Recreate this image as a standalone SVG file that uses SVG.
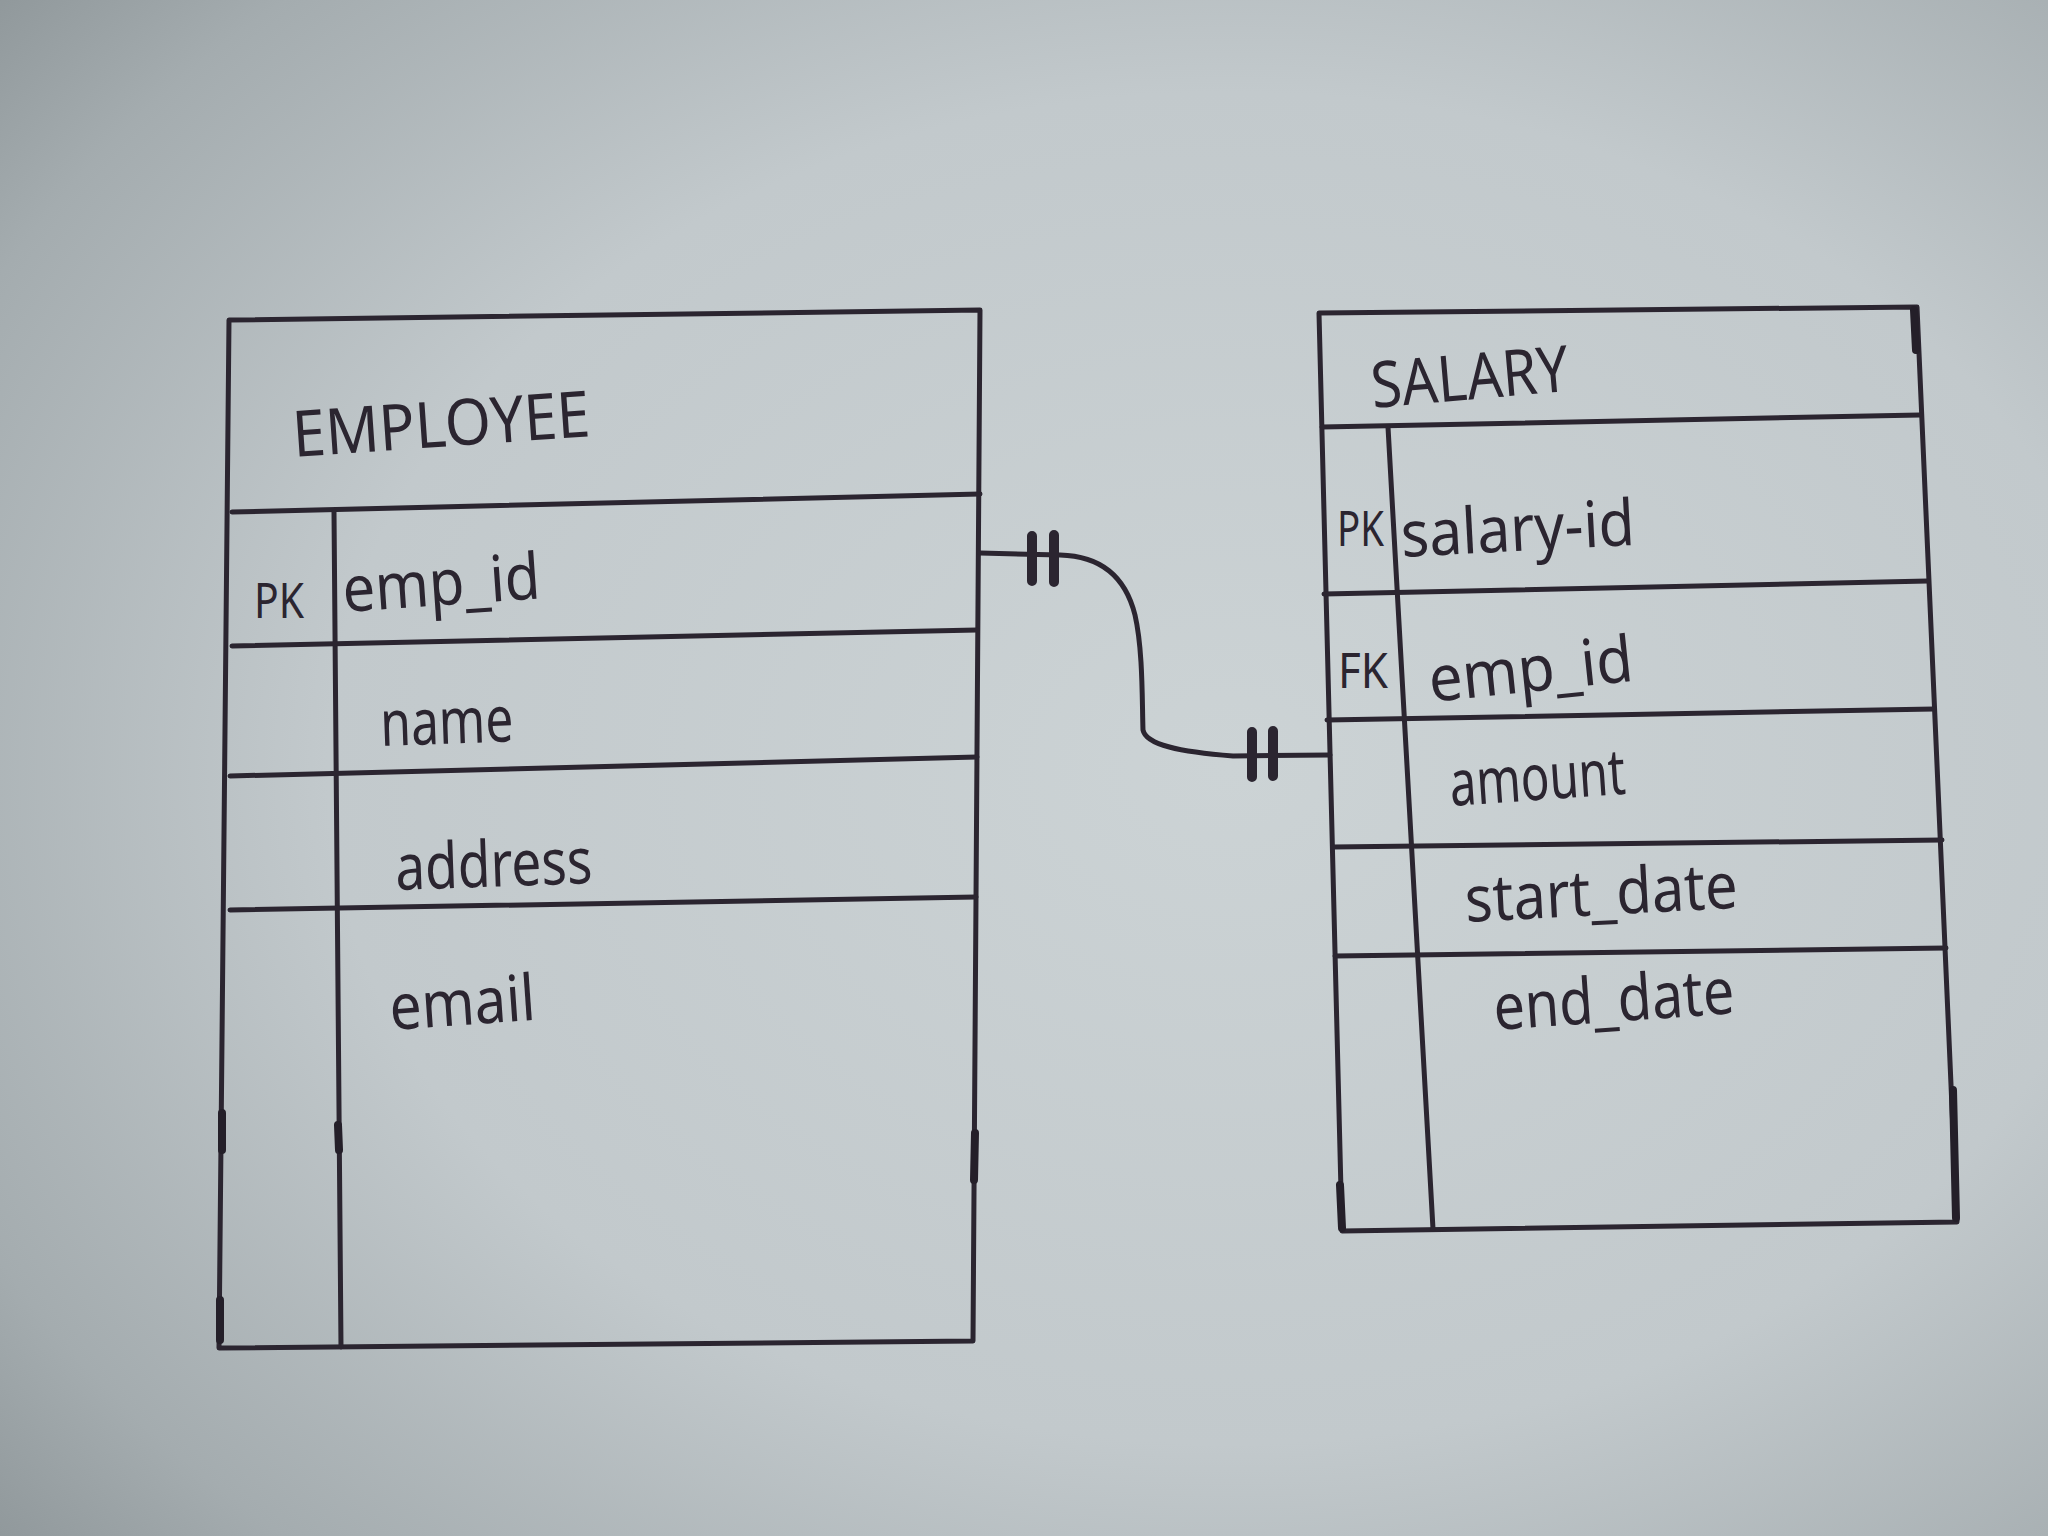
<svg xmlns="http://www.w3.org/2000/svg" width="2048" height="1536" viewBox="0 0 2048 1536">
  <defs>
    <radialGradient id="paper" cx="0.6" cy="0.5" r="0.8">
      <stop offset="0" stop-color="#ccd3d5"/>
      <stop offset="0.55" stop-color="#c2c9cc"/>
      <stop offset="0.85" stop-color="#a4acaf"/>
      <stop offset="1" stop-color="#8d9598"/>
    </radialGradient>
  </defs>
  <style>
    .ink { fill: none; stroke: #2b2530; stroke-width: 5; stroke-linecap: round; stroke-linejoin: round; }
    .heavy { fill: none; stroke: #241f29; stroke-width: 8; stroke-linecap: round; }
    .bar { fill: none; stroke: #2b2530; stroke-width: 10; stroke-linecap: round; }
    .title { font-family: "Noto Sans", "DejaVu Sans", sans-serif; font-size: 64px; fill: #2b2530; }
    .attr { font-family: "Noto Sans", "DejaVu Sans", sans-serif; font-size: 64px; fill: #2b2530; }
    .key { font-family: "Noto Sans", "DejaVu Sans", sans-serif; font-size: 50px; fill: #2b2530; }
  </style>

  <!-- sheet of paper -->
  <rect x="0" y="0" width="2048" height="1536" fill="url(#paper)"/>

  <!-- EMPLOYEE entity -->
  <g id="employee">
    <path class="ink" d="M229,320 L980,310 L973,1341 L219,1348 Z"/>
    <path class="ink" d="M232,512 L980,494"/>
    <path class="ink" d="M334,512 L341,1347"/>
    <path class="ink" d="M232,646 L977,630"/>
    <path class="ink" d="M230,776 L977,757"/>
    <path class="ink" d="M230,910 L976,897"/>
    <path class="heavy" d="M222,1113 L222,1150 M220,1300 L220,1340 M338,1125 L339,1150 M975,1133 L974,1180"/>
    <text class="title" transform="translate(294,457) rotate(-4)" textLength="298" lengthAdjust="spacingAndGlyphs">EMPLOYEE</text>
    <text class="key" x="254" y="618" textLength="50" lengthAdjust="spacingAndGlyphs">PK</text>
    <text class="attr" transform="translate(344,612) rotate(-4)" textLength="198" lengthAdjust="spacingAndGlyphs">emp_id</text>
    <text class="attr" transform="translate(381,746) rotate(-2)" textLength="133" lengthAdjust="spacingAndGlyphs">name</text>
    <text class="attr" transform="translate(396,890) rotate(-2)" textLength="197" lengthAdjust="spacingAndGlyphs">address</text>
    <text class="attr" transform="translate(391,1030) rotate(-4)" textLength="146" lengthAdjust="spacingAndGlyphs">email</text>
  </g>

  <!-- SALARY entity -->
  <g id="salary">
    <path class="ink" d="M1319,313 L1917,307 L1957,1222 L1342,1231 Z"/>
    <path class="ink" d="M1322,427 L1920,415"/>
    <path class="ink" d="M1388,427 L1433,1229"/>
    <path class="ink" d="M1324,594 L1928,581"/>
    <path class="ink" d="M1327,720 L1934,709"/>
    <path class="ink" d="M1333,847 L1942,840"/>
    <path class="ink" d="M1335,956 L1946,948"/>
    <path class="heavy" d="M1914,310 L1916,350 M1953,1090 L1956,1218 M1340,1185 L1342,1228"/>
    <text class="title" transform="translate(1373,408) rotate(-5)" textLength="198" lengthAdjust="spacingAndGlyphs">SALARY</text>
    <text class="key" x="1337" y="546" textLength="47" lengthAdjust="spacingAndGlyphs">PK</text>
    <text class="attr" transform="translate(1402,557) rotate(-3)" textLength="234" lengthAdjust="spacingAndGlyphs">salary-id</text>
    <text class="key" x="1338" y="688" textLength="50" lengthAdjust="spacingAndGlyphs">FK</text>
    <text class="attr" transform="translate(1431,702) rotate(-6)" textLength="205" lengthAdjust="spacingAndGlyphs">emp_id</text>
    <text class="attr" transform="translate(1451,806) rotate(-4)" textLength="176" lengthAdjust="spacingAndGlyphs">amount</text>
    <text class="attr" transform="translate(1466,922) rotate(-3)" textLength="273" lengthAdjust="spacingAndGlyphs">start_date</text>
    <text class="attr" transform="translate(1495,1030) rotate(-4)" textLength="241" lengthAdjust="spacingAndGlyphs">end_date</text>
  </g>

  <!-- one-to-one relationship: EMPLOYEE.emp_id to SALARY.emp_id -->
  <g id="connectors">
    <path class="ink" d="M980,553 L1060,555 C1100,556 1125,575 1135,615 C1143,650 1142,700 1143,730 C1146,745 1180,752 1233,756 L1330,755"/>
    <path class="bar" d="M1032,536 L1032,581 M1054,535 L1054,582"/>
    <path class="bar" d="M1252,732 L1252,777 M1273,731 L1273,776"/>
  </g>
</svg>
